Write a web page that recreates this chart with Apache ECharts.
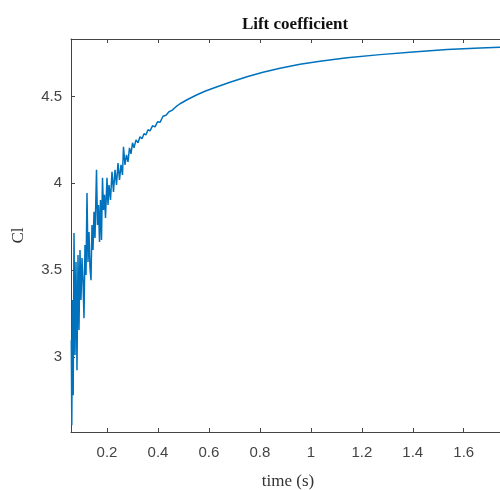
<!DOCTYPE html>
<html>
<head>
<meta charset="utf-8">
<script src="https://cdn.jsdelivr.net/npm/echarts@6/dist/echarts.min.js"></script>
<style>html,body{margin:0;padding:0;background:#fff;}#c{width:500px;height:490px;}</style>
</head>
<body>
<div id="c"></div>
<script>
var titleText = 'Lift coefficient';
var xName = 'time (s)';
var yName = 'Cl';
var timeValues = [0.0599,0.0618,0.0646,0.0673,0.0705,0.0744,0.0783,0.0822,0.0862,0.0901,0.0940,0.0979,0.1019,0.1058,0.1097,0.1136,0.1176,0.1215,0.1254,0.1293,0.1333,0.1372,0.1411,0.1450,0.1490,0.1529,0.1588,0.1627,0.1666,0.1706,0.1745,0.1784,0.1823,0.1863,0.1902,0.1941,0.2000,0.2039,0.2078,0.2137,0.2196,0.2255,0.2314,0.2373,0.2432,0.2490,0.2549,0.2608,0.2647,0.2706,0.2765,0.2824,0.2883,0.2942,0.3001,0.3060,0.3138,0.3217,0.3295,0.3374,0.3452,0.3531,0.3609,0.3688,0.3786,0.3884,0.3982,0.4080,0.4198,0.4315,0.4433,0.4551,0.4708,0.4865,0.5179,0.5532,0.5846,0.6160,0.6827,0.7494,0.8122,0.8789,0.9574,1.0359,1.1419,1.2714,1.4009,1.5343,1.6638,1.7619];
var clValues = [3.096,2.606,3.327,2.779,3.714,3.010,3.546,2.923,3.587,3.154,3.615,3.327,3.569,3.442,3.223,3.644,3.471,3.944,3.546,3.719,3.512,3.442,3.760,3.615,3.835,3.685,4.077,3.760,3.875,3.662,3.904,3.673,4.031,3.846,3.933,3.800,4.031,3.875,3.990,3.904,4.066,3.950,4.077,3.990,4.117,4.019,4.106,4.048,4.210,4.106,4.164,4.123,4.204,4.169,4.233,4.204,4.250,4.233,4.268,4.256,4.285,4.279,4.308,4.302,4.331,4.325,4.354,4.351,4.386,4.392,4.412,4.420,4.441,4.458,4.484,4.510,4.530,4.547,4.582,4.614,4.640,4.663,4.686,4.703,4.723,4.741,4.756,4.770,4.779,4.785];
var xMin = 0.0587, xMax = 1.762;
var yMin = 2.567, yMax = 4.831;

var data = timeValues.map(function (t, i) { return [t, clValues[i]]; });
var axisColor = '#444';
var chart = echarts.init(document.getElementById('c'), null, {renderer: 'canvas'});
chart.setOption({
  animation: false,
  backgroundColor: '#fff',
  title: {
    text: titleText, left: 290, top: 11, textAlign: 'center',
    textStyle: {fontFamily: 'Liberation Serif', fontWeight: 'bold', fontSize: 17, color: '#111'}
  },
  grid: {left: 71, top: 39, right: -5, bottom: 58, containLabel: false, outerBoundsMode: 'none'},
  xAxis: [{
    type: 'value', min: xMin, max: xMax, splitNumber: 9,
    name: xName, nameLocation: 'middle', nameGap: 41,
    nameTextStyle: {fontFamily: 'Liberation Serif', fontSize: 17, color: '#333'},
    axisLine: {show: true, onZero: false, lineStyle: {color: axisColor, width: 1}},
    axisTick: {show: true, inside: true, length: 4, lineStyle: {color: axisColor}},
    axisLabel: {showMinLabel: false, showMaxLabel: false, margin: 13, fontFamily: 'Liberation Sans', fontSize: 15, color: '#444'},
    splitLine: {show: false}
  }, {
    type: 'value', position: 'top', min: xMin, max: xMax, splitNumber: 9,
    axisLine: {show: true, onZero: false, lineStyle: {color: axisColor, width: 1}},
    axisTick: {show: true, inside: true, length: 4, lineStyle: {color: axisColor}},
    axisLabel: {show: false}, splitLine: {show: false}
  }],
  yAxis: [{
    type: 'value', min: yMin, max: yMax, splitNumber: 5,
    name: yName, nameLocation: 'middle', nameGap: 44,
    nameTextStyle: {fontFamily: 'Liberation Serif', fontSize: 17, color: '#333'},
    axisLine: {show: true, onZero: false, lineStyle: {color: axisColor, width: 1}},
    axisTick: {show: true, inside: true, length: 4, lineStyle: {color: axisColor}},
    axisLabel: {showMinLabel: false, showMaxLabel: false, margin: 9, fontFamily: 'Liberation Sans', fontSize: 15, color: '#444'},
    splitLine: {show: false}
  }, {
    type: 'value', position: 'right', min: yMin, max: yMax, splitNumber: 5,
    axisLine: {show: true, onZero: false, lineStyle: {color: axisColor, width: 1}},
    axisTick: {show: true, inside: true, length: 4, lineStyle: {color: axisColor}},
    axisLabel: {show: false}, splitLine: {show: false}
  }],
  series: [{
    type: 'line', data: data, showSymbol: false, symbol: 'none', smooth: false,
    lineStyle: {color: '#0072BD', width: 1.5}, clip: true
  }]
});
</script>
</body>
</html>
